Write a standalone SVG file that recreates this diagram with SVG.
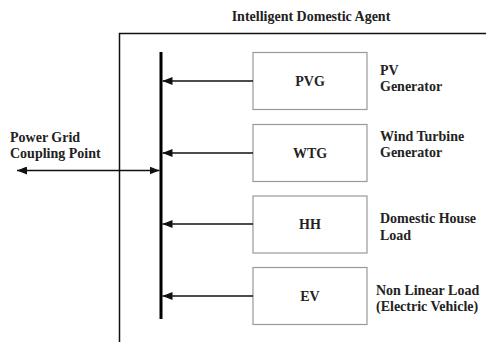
<svg xmlns="http://www.w3.org/2000/svg" width="486" height="342" viewBox="0 0 486 342">
<style>
text{font-family:"Liberation Serif","Times New Roman",serif;font-weight:bold;font-size:14px;fill:#222}
.box{fill:#fff;stroke:#999;stroke-width:1.2}
.ln{stroke:#111;stroke-width:1.5;fill:none}
.c{text-anchor:middle}
</style>
<defs>
<marker id="ah" viewBox="0 0 10 8" refX="10" refY="4" markerWidth="10" markerHeight="8" markerUnits="userSpaceOnUse" orient="auto-start-reverse">
<path d="M0,0 L10,4 L0,8 Z" fill="#111"/>
</marker>
</defs>
<rect width="486" height="342" fill="#fff"/>
<g id="frame">
<path class="ln" d="M486,33.5 H119.5 V342"/>
<text class="c" x="311" y="21">Intelligent Domestic Agent</text>
</g>
<g id="bus">
<line x1="161" y1="52" x2="161" y2="319" stroke="#000" stroke-width="3"/>
</g>
<g id="PVG">
<rect class="box" x="253" y="52.5" width="114" height="57"/>
<text class="c" x="310" y="86">PVG</text>
<text x="380" y="75">PV</text>
<text x="380" y="91">Generator</text>
</g>
<g id="WTG">
<rect class="box" x="253" y="124.5" width="114" height="57"/>
<text class="c" x="310" y="158">WTG</text>
<text x="380" y="141">Wind Turbine</text>
<text x="380" y="157">Generator</text>
</g>
<g id="HH">
<rect class="box" x="253" y="196" width="114" height="57"/>
<text class="c" x="310" y="229">HH</text>
<text x="380" y="223">Domestic House</text>
<text x="380" y="240">Load</text>
</g>
<g id="EV">
<rect class="box" x="253" y="267.5" width="114" height="57"/>
<text class="c" x="310" y="301">EV</text>
<text x="376" y="295">Non Linear Load</text>
<text x="376" y="311">(Electric Vehicle)</text>
</g>
<g id="grid">
<text x="10" y="142">Power Grid</text>
<text x="10" y="158">Coupling Point</text>
</g>
<g id="connectors">
<line class="ln" x1="253" y1="81" x2="162.5" y2="81" marker-end="url(#ah)"/>
<line class="ln" x1="253" y1="153" x2="162.5" y2="153" marker-end="url(#ah)"/>
<line class="ln" x1="253" y1="224" x2="162.5" y2="224" marker-end="url(#ah)"/>
<line class="ln" x1="253" y1="296" x2="162.5" y2="296" marker-end="url(#ah)"/>
<line class="ln" x1="17" y1="170.5" x2="159.5" y2="170.5" marker-start="url(#ah)" marker-end="url(#ah)"/>
</g>
</svg>
